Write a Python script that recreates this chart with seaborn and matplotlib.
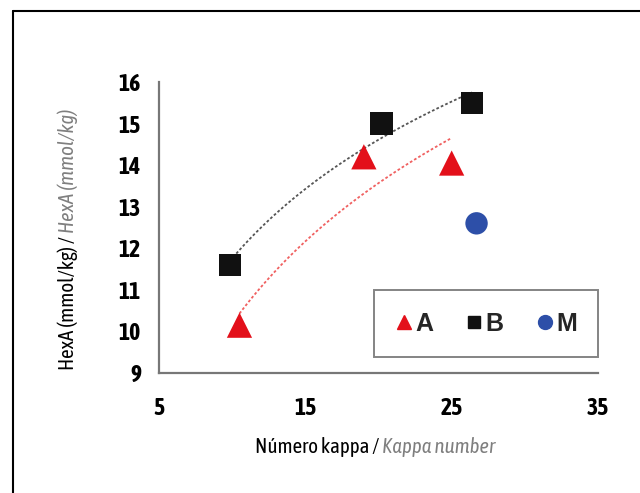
import numpy as np
import pandas as pd
import matplotlib
matplotlib.use("Agg")
import matplotlib.pyplot as plt
from matplotlib import font_manager
import seaborn as sns
from matplotlib.lines import Line2D

# data
kappa_a = [10.5, 19.0, 25.0]
hexa_a = [10.15, 14.2, 14.05]
kappa_b = [9.85, 20.2, 26.4]
hexa_b = [11.6, 15.0, 15.5]
kappa_m = [26.7]
hexa_m = [12.6]

x_ticks = [5, 15, 25, 35]
y_ticks = [9, 10, 11, 12, 13, 14, 15, 16]

RED = "#e3101a"
BLACK = "#111111"
BLUE = "#2d4fa8"
GRAY = "#7f7f7f"

sns.set_style("white")


def weight_num(w):
    if isinstance(w, str):
        return font_manager.weight_dict.get(w, 400)
    return w


# the reference uses a condensed sans; prefer one that also has a bold face
weights = {}
for f in font_manager.fontManager.ttflist:
    if "Narrow" in f.name or "Condensed" in f.name:
        weights.setdefault(f.name, set()).add(weight_num(f.weight))
with_bold = sorted(n for n, ws in weights.items() if max(ws) >= 600)
if with_bold:
    family = with_bold[0]
elif weights:
    family = sorted(weights)[0]
else:
    family = "Liberation Sans"
plt.rcParams["font.family"] = [family, "DejaVu Sans"]

df_a = pd.DataFrame({"kappa": kappa_a, "hexa": hexa_a})
df_b = pd.DataFrame({"kappa": kappa_b, "hexa": hexa_b})
df_m = pd.DataFrame({"kappa": kappa_m, "hexa": hexa_m})

fig = plt.figure(figsize=(6.4, 4.93), dpi=100)
ax = fig.add_axes([0.2484, 0.2434, 0.6860, 0.5903])

# logarithmic trend lines
sns.regplot(data=df_b, x="kappa", y="hexa", logx=True, ci=None, scatter=False,
            ax=ax, line_kws={"color": "#555555", "lw": 1.3, "ls": (0, (1.5, 1.2))})
sns.regplot(data=df_a, x="kappa", y="hexa", logx=True, ci=None, scatter=False,
            ax=ax, line_kws={"color": "#f06060", "lw": 1.3, "ls": (0, (1.5, 1.2))})

sns.scatterplot(data=df_a, x="kappa", y="hexa", marker="^", s=330, color=RED,
                edgecolor="none", ax=ax, zorder=3)
sns.scatterplot(data=df_b, x="kappa", y="hexa", marker="s", s=260, color=BLACK,
                edgecolor="none", ax=ax, zorder=3)
sns.scatterplot(data=df_m, x="kappa", y="hexa", marker="o", s=260, color=BLUE,
                edgecolor="none", ax=ax, zorder=3)

ax.set_xlim(5, 35)
ax.set_ylim(9, 16)
ax.set_xticks(x_ticks)
ax.set_yticks(y_ticks)
ax.set_xlabel("")
ax.set_ylabel("")
for side in ["top", "right"]:
    ax.spines[side].set_visible(False)
for side in ["left", "bottom"]:
    ax.spines[side].set_color("#777777")
    ax.spines[side].set_linewidth(1.6)
ax.tick_params(axis="both", direction="out", length=5, width=1.2, color="#777777",
               labelsize=17, labelcolor="black")
ax.tick_params(axis="x", pad=12)
ax.tick_params(axis="y", pad=8)
for lab in ax.get_xticklabels() + ax.get_yticklabels():
    lab.set_fontweight("bold")

# legend
handles = [
    Line2D([], [], marker="^", color=RED, ls="none", markersize=10),
    Line2D([], [], marker="s", color=BLACK, ls="none", markersize=9),
    Line2D([], [], marker="o", color=BLUE, ls="none", markersize=10),
]
leg = ax.legend(handles, ["A", "B", "M"], ncol=3, loc="lower right",
                bbox_to_anchor=(1.0, 0.055), borderaxespad=0, frameon=True,
                fancybox=False, handlelength=0.7, handletextpad=0.1,
                columnspacing=1.3, borderpad=0.85,
                prop={"family": "Liberation Sans", "weight": "bold", "size": 18})
leg.get_frame().set_edgecolor("#666666")
leg.get_frame().set_linewidth(1.4)

# axis labels with mixed styling
xl = fig.text(0.398, 0.082, "Número kappa / ", fontsize=15, color="black",
              ha="left", va="baseline")
ax.annotate("Kappa number", xy=(1, 0), xycoords=xl, fontsize=15, color=GRAY,
            style="italic", ha="left", va="bottom")

yl = fig.text(0.122, 0.25, "HexA (mmol/kg) / ", fontsize=15, color="black",
              rotation=90, ha="left", va="bottom", rotation_mode="anchor")
ax.annotate("HexA (mmol/kg)", xy=(1, 1), xycoords=yl, fontsize=15, color=GRAY,
            style="italic", rotation=90, ha="left", va="bottom", rotation_mode="anchor")

# frame lines around the figure (left and top only)
fig.add_artist(Line2D([0.021, 0.021], [0.0, 0.978], color="black", lw=1.5,
                      transform=fig.transFigure))
fig.add_artist(Line2D([0.021, 1.0], [0.978, 0.978], color="black", lw=1.5,
                      transform=fig.transFigure))

fig.savefig("out.png", dpi=100)
